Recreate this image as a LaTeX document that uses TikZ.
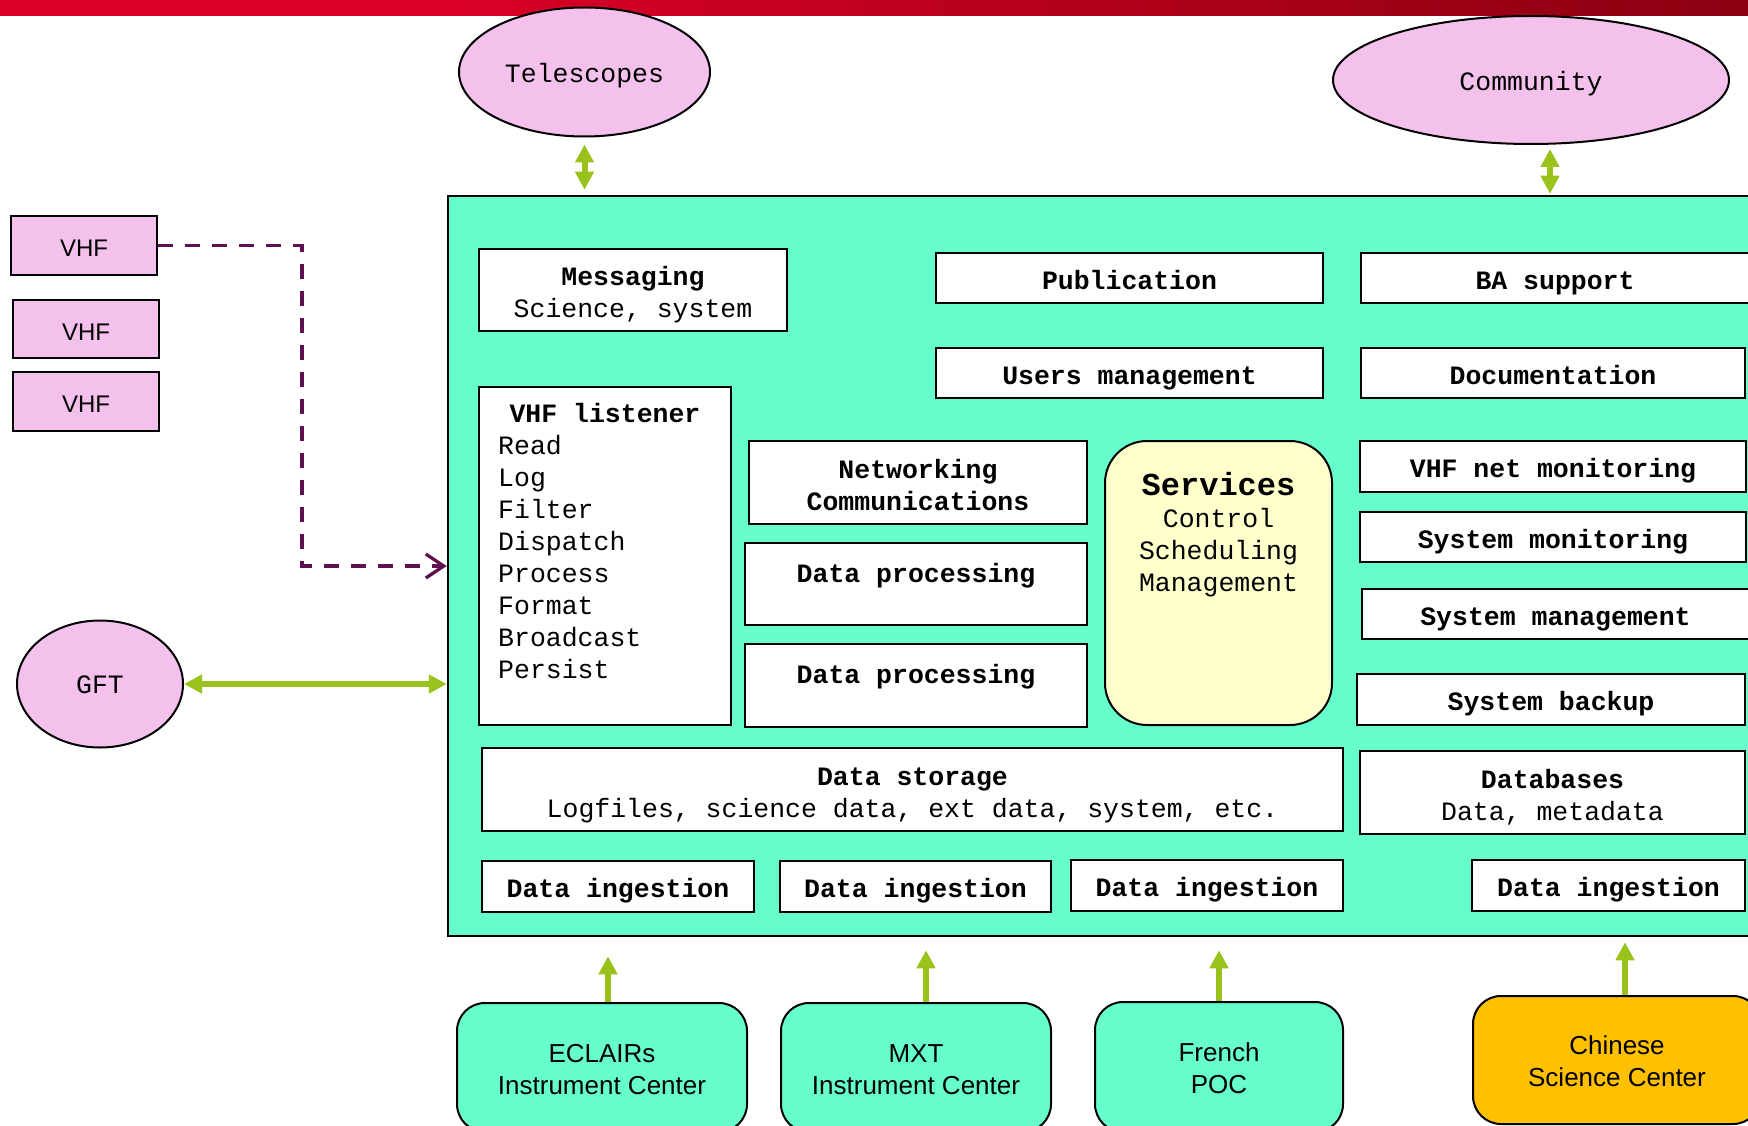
\documentclass[tikz,border=0pt]{standalone}
\usepackage{fontspec}
\setmainfont{Liberation Sans}
\setmonofont{Liberation Mono}
\usetikzlibrary{arrows.meta,shapes.geometric}

\definecolor{barred}{HTML}{DC0028}
\definecolor{bardark}{HTML}{8A0010}
\definecolor{pinkfill}{HTML}{F3C1EC}
\definecolor{tealfill}{HTML}{66FFCC}
\definecolor{svcyellow}{HTML}{FFFFCC}
\definecolor{scorange}{HTML}{FFC000}
\definecolor{linkgreen}{HTML}{99C31C}
\definecolor{vhfpurple}{HTML}{5E1050}

% rectangle node given by its corners: style, name, x1, y1, x2, y2, then {text}
\newcommand\placebox[6]{\node[#1, minimum width={(#5)-(#3)}, minimum height={(#6)-(#4)}] (#2) at ({((#3)+(#5))/2},{((#4)+(#6))/2})}
% invisible rules that fix the extent of two-line labels
\newcommand\monotop{\rule{0pt}{29pt}}
\newcommand\sanstop{\rule{0pt}{27.4pt}}
\newcommand\labelbot{\rule[-6pt]{0pt}{6pt}}

\begin{document}
\begin{tikzpicture}[x=1pt,y=-1pt,
  mono/.style={font=\ttfamily\fontsize{26.5}{32}\selectfont},
  oneline/.style={text height=26pt, text depth=4pt},
  box/.style={draw, line width=2pt, fill=white, inner sep=0pt, align=center, mono},
  txt/.style={inner sep=0pt, mono},
  ell/.style={ellipse, draw, line width=2pt, fill=pinkfill, inner sep=0pt, mono, oneline},
  vhfbox/.style={draw, line width=2pt, fill=pinkfill, inner sep=0pt, font=\fontsize{24}{28}\selectfont, oneline},
  mainbox/.style={draw, line width=2.5pt, fill=tealfill, inner sep=0pt},
  centerbox/.style={draw, line width=2pt, rounded corners=28pt, inner sep=0pt, align=center, font=\fontsize{26}{32}\selectfont},
  svcbox/.style={draw, line width=2pt, rounded corners=42pt, fill=svcyellow, inner sep=0pt},
  uplink/.style={draw=linkgreen, line width=6pt, -{Triangle[length=18pt,width=18pt]}},
  bilink/.style={draw=linkgreen, line width=6pt, {Triangle[length=18pt,width=18pt]}-{Triangle[length=18pt,width=18pt]}},
  vhflink/.style={draw=vhfpurple, line width=3.3pt, dash pattern=on 15pt off 12pt, -{Straight Barb[length=18pt,width=24pt,line width=3.3pt]}}
]
\useasboundingbox (0,0) rectangle (1748,1126);
\clip (0,0) rectangle (1748,1126);
\fill[white] (0,0) rectangle (1748,1126);

% title bar
\fill[barred] (0,0) rectangle (421,16);
\shade[left color=barred, right color=bardark] (420,0) rectangle (1748,16);

% external actors
\node[ell, minimum width=251pt, minimum height=129pt] (tel) at (584.5,72) {Telescopes};
\node[ell, minimum width=396pt, minimum height=128pt] (com) at (1531,80) {Community};
\node[ell, minimum width=166pt, minimum height=127pt, text height=22pt] (gft) at (100,684) {GFT};

\placebox{vhfbox}{vhf1}{11}{216}{157}{275}{VHF};
\placebox{vhfbox}{vhf2}{13}{300}{159}{358}{VHF};
\placebox{vhfbox}{vhf3}{13}{372}{159}{431}{VHF};

% science centre frame
\placebox{mainbox}{main}{448}{196}{1764}{936}{};

\placebox{box}{msg}{479}{249}{787}{331}{\monotop\textbf{Messaging}\\Science, system\labelbot};
\placebox{box}{vhfl}{479}{387}{731}{725}{};
\node[txt] (vhflt) at (605,413) {\textbf{VHF listener}};
\node[txt, anchor=west, align=left] (vhfli) at (498,557) {Read\\Log\\Filter\\Dispatch\\Process\\Format\\Broadcast\\Persist};

\placebox{box, oneline}{pub}{936}{253}{1323}{303}{\textbf{Publication}};
\placebox{box, oneline}{users}{936}{348}{1323}{398}{\textbf{Users management}};
\placebox{box, oneline}{ba}{1361}{253}{1749}{303}{\textbf{BA support}};
\placebox{box, oneline}{doc}{1361}{348}{1745}{398}{\textbf{Documentation}};

\placebox{box}{net}{749}{441}{1087}{524}{\monotop\textbf{Networking}\\\textbf{Communications}\labelbot};
\placebox{box}{dp1}{745}{543}{1087}{625}{};
\node[txt] (dp1t) at (916,575.5) {\textbf{Data processing}};
\placebox{box}{dp2}{745}{644}{1087}{727}{};
\node[txt] (dp2t) at (916,676.5) {\textbf{Data processing}};

\placebox{svcbox}{svc}{1105}{441}{1332}{725}{};
\node[txt, align=center] (svct) at (1218.5,534.5) {{\fontsize{32}{34}\selectfont\bfseries Services}\\Control\\Scheduling\\Management};

\placebox{box, oneline}{vnm}{1360}{441}{1746}{492}{\textbf{VHF net monitoring}};
\placebox{box, oneline}{smon}{1360}{512}{1746}{562}{\textbf{System monitoring}};
\placebox{box, oneline}{sman}{1362}{589}{1749}{639}{\textbf{System management}};
\placebox{box, oneline}{sbak}{1357}{674}{1745}{725}{\textbf{System backup}};

\placebox{box}{stor}{482}{748}{1343}{831}{\monotop\textbf{Data storage}\\Logfiles, science data, ext data, system, etc.\labelbot};
\placebox{box}{db}{1360}{751}{1745}{834}{\monotop\textbf{Databases}\\Data, metadata\labelbot};

\placebox{box, oneline}{di1}{482}{861}{754}{912}{\textbf{Data ingestion}};
\placebox{box, oneline}{di2}{780}{861}{1051}{912}{\textbf{Data ingestion}};
\placebox{box, oneline}{di3}{1071}{860}{1343}{911}{\textbf{Data ingestion}};
\placebox{box, oneline}{di4}{1472}{860}{1745}{911}{\textbf{Data ingestion}};

% instrument and science centres
\placebox{centerbox, fill=tealfill}{ecl}{457}{1003}{747}{1132}{\sanstop ECLAIRs\\Instrument Center\labelbot};
\placebox{centerbox, fill=tealfill}{mxt}{781}{1003}{1051}{1132}{\sanstop MXT\\Instrument Center\labelbot};
\placebox{centerbox, fill=tealfill}{fr}{1095}{1002}{1343}{1132}{\sanstop French\\POC\labelbot};
\placebox{centerbox, fill=scorange}{cn}{1473}{996}{1761}{1124}{\sanstop Chinese\\Science Center\labelbot};

% links
\draw[bilink, shorten <=7pt, shorten >=5pt] (tel.south) -- (tel.south |- main.north);
\coordinate (comx) at (1550,0);
\draw[bilink, shorten <=4pt, shorten >=1pt] (comx |- com.south) -- (comx |- main.north);
\draw[bilink] (gft.east) -- (gft.east -| main.west);

\coordinate (bend) at (302,0);
\draw[vhflink] (vhf1.east) -| (bend |- main.west) -- (main.west);

\coordinate (eclt) at ([xshift=6pt]ecl.north);
\coordinate (mxtt) at ([xshift=10pt]mxt.north);
\coordinate (frt) at (fr.north);
\coordinate (cnt) at ([xshift=8pt]cn.north);
\draw[uplink, shorten >=19pt] (eclt) -- (eclt |- main.south);
\draw[uplink, shorten >=13pt] (mxtt) -- (mxtt |- main.south);
\draw[uplink, shorten >=13pt] (frt) -- (frt |- main.south);
\draw[uplink, shorten >=5pt] (cnt) -- (cnt |- main.south);
\end{tikzpicture}
\end{document}
